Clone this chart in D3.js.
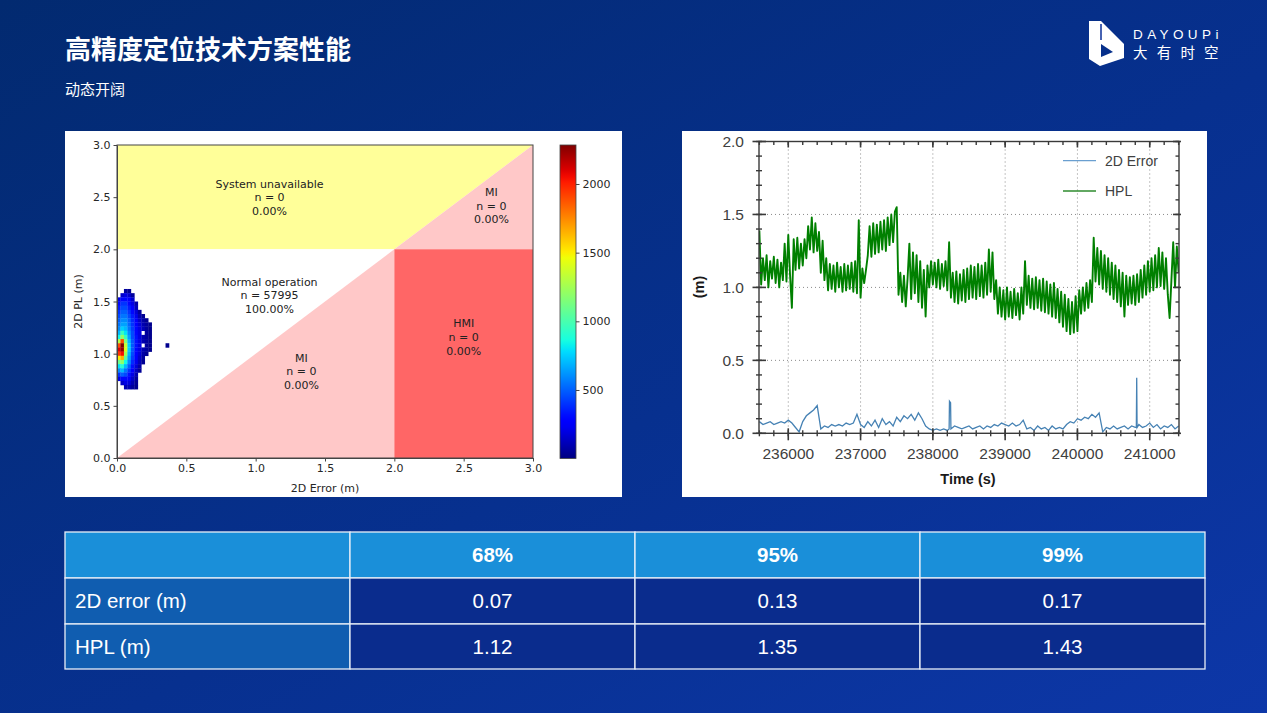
<!DOCTYPE html>
<html><head><meta charset="utf-8">
<script src="https://cdn.jsdelivr.net/npm/d3@7"></script>
<style>body{margin:0;background:#03296f;overflow:hidden}svg{display:block}</style>
</head><body><svg id="c" width="1267" height="713"></svg>
<script>
// ---------------- DATA ----------------
const pageTitle = "高精度定位技术方案性能";
const pageSubtitle = "动态开阔";
const logoLatin = "DAYOUPi";
const logoCJK = "大有时空";

// Stanford plot (2D Error vs 2D PL), alert limit 2 m
const stanfordTicks = [0, 0.5, 1, 1.5, 2, 2.5, 3];
const zoneNames = ["System unavailable", "MI", "Normal operation", "MI", "HMI"];
const zoneCounts = [0, 0, 57995, 0, 0];
const zonePercents = ["0.00%", "0.00%", "100.00%", "0.00%", "0.00%"];
const zonePolys = [
  [[0,2],[2,2],[3,3],[0,3]],
  [[2,2],[3,2],[3,3]],
  [[0,0],[0,2],[2,2]],
  [[0,0],[2,0],[2,2]],
  [[2,0],[3,0],[3,2],[2,2]]
];
const zoneColors = ["#ffff99", "#ffc8c8", "#ffffff", "#ffc8c8", "#ff6666"];
const zoneLabelAt = [[1.1,2.5],[2.7,2.42],[1.1,1.56],[1.33,0.83],[2.5,1.16]];

// 2D histogram: bin width 0.025 m (x), 0.04 m (y); rows listed top to bottom
const heatBinW = 0.025, heatBinH = 0.04;
const heatRowLow = [1.58,1.54,1.50,1.46,1.42,1.38,1.34,1.30,1.26,1.22,1.18,1.14,1.10,1.06,1.02,0.98,0.94,0.90,0.86,0.82,0.78,0.74,0.70,0.66];
const heatCounts = [
  [0,0,60,40],
  [0,150,200,150,60],
  [200,300,300,250,150],
  [300,400,400,300,200,80],
  [350,450,450,350,250,120],
  [400,500,500,400,300,180,60],
  [450,550,550,450,350,220,100,40],
  [500,600,600,500,380,250,150,80,40],
  [550,650,650,520,400,280,180,100,60,30],
  [600,750,700,550,420,300,200,120,60,30],
  [700,950,800,600,450,300,200,0,60,30],
  [850,1200,950,650,450,320,200,100,60,30],
  [1300,1900,1150,700,480,320,200,100,60,30],
  [1900,2283,1350,750,480,320,200,0,60,30,0,0,0,0,30],
  [2100,2250,1400,750,480,300,200,100,60,30],
  [1950,2050,1250,700,450,280,180,80,40],
  [1500,1650,1050,650,420,250,150,60],
  [1100,1200,850,600,380,220,120,40],
  [800,900,700,500,320,180,80],
  [600,700,550,400,250,140,50],
  [400,500,450,320,200,100],
  [200,300,300,250,150,60],
  [0,150,200,180,100,40],
  [0,0,100,100,60,30]
];
const colorbarMin = 1, colorbarMax = 2284;
const colorbarTicks = [500, 1000, 1500, 2000];

// Time series
const timeDomain = [235595, 241405];
const timeTicks = [236000, 237000, 238000, 239000, 240000, 241000];
const meterTicks = [0, 0.5, 1.0, 1.5, 2.0];
const hplStart = 235600, hplStep = 25;
const hplValues = [
 1.39,1.02,1.20,1.05,1.22,1.00,1.18,1.06,1.21,1.03,1.19,1.00,1.17,1.05,1.30,1.04,1.36,1.08,0.86,1.33,
 1.12,1.34,1.13,1.30,1.15,1.33,1.20,1.42,1.26,1.48,1.24,1.44,1.25,1.38,1.10,1.32,1.05,1.20,0.98,1.16,
 0.99,1.15,0.97,1.17,1.00,1.14,0.97,1.16,0.98,1.15,0.99,1.17,0.97,1.18,0.96,1.46,0.93,1.13,1.03,1.12,
 1.22,1.42,1.21,1.44,1.23,1.43,1.24,1.45,1.26,1.46,1.25,1.48,1.29,1.50,1.31,1.52,1.55,0.95,1.10,0.90,
 1.08,0.87,1.06,1.30,0.92,1.24,0.96,1.22,0.90,1.18,0.86,1.12,0.80,1.15,1.00,1.18,1.02,1.17,1.00,1.19,
 0.99,1.16,1.01,1.18,0.98,1.31,0.93,1.10,0.90,1.11,0.89,1.09,0.91,1.12,0.90,1.13,0.92,1.15,0.93,1.14,
 0.92,1.16,0.94,1.15,0.93,1.17,0.95,1.26,0.97,1.24,0.92,1.05,0.82,1.00,0.80,0.98,0.78,1.00,0.80,0.97,
 0.79,0.99,0.81,0.96,0.78,1.00,0.82,1.18,0.88,1.08,0.86,1.06,0.85,1.07,0.86,1.05,0.84,1.06,0.83,1.04,
 0.82,1.02,0.80,1.03,0.79,0.99,0.76,0.97,0.73,0.95,0.70,0.92,0.68,0.90,0.69,0.94,0.70,0.98,0.82,1.00,
 0.84,1.03,0.86,1.05,0.90,1.34,1.04,1.27,1.02,1.25,0.99,1.22,0.97,1.20,0.95,1.17,0.92,1.15,0.90,1.12,
 0.87,1.10,0.80,1.08,0.88,1.07,0.89,1.08,0.88,1.09,0.90,1.12,0.93,1.15,0.95,1.18,0.97,1.20,0.98,1.22,
 1.00,1.27,1.01,1.24,0.99,1.20,0.95,0.79,1.05,1.31,1.00,1.28,1.10
];
const errStart = 235600, errStep = 50;
const errValues = [
 0.08,0.06,0.07,0.08,0.06,0.07,0.08,0.07,0.09,0.07,0.04,0.01,0.08,0.12,0.14,0.16,0.19,0.03,0.05,0.04,
 0.06,0.05,0.06,0.05,0.07,0.06,0.07,0.13,0.06,0.04,0.08,0.05,0.09,0.04,0.10,0.06,0.08,0.05,0.11,0.08,
 0.12,0.10,0.13,0.09,0.14,0.10,0.05,0.03,0.02,0.03,0.02,0.03,0.02,0.03,0.05,0.04,0.03,0.04,0.05,0.03,
 0.04,0.05,0.03,0.05,0.04,0.06,0.05,0.07,0.06,0.05,0.07,0.05,0.06,0.09,0.03,0.04,0.02,0.05,0.03,0.04,
 0.02,0.05,0.03,0.04,0.03,0.06,0.08,0.07,0.10,0.09,0.11,0.10,0.13,0.11,0.14,0.01,0.04,0.03,0.05,0.03,
 0.04,0.05,0.03,0.05,0.04,0.06,0.04,0.05,0.07,0.04,0.06,0.03,0.05,0.04,0.06,0.03,0.05
];
const errSpikeTimes = [238225, 238230, 238245, 238250, 240815, 240820, 240825];
const errSpikeValues = [0.03, 0.22, 0.21, 0.03, 0.04, 0.38, 0.04];
const seriesNames = ["2D Error", "HPL"];

// Table
const tableHeaders = ["68%", "95%", "99%"];
const tableRowLabels = ["2D error (m)", "HPL (m)"];
const tableErr = [0.07, 0.13, 0.17];
const tableHpl = [1.12, 1.35, 1.43];

// ---------------- DRAW ----------------
const svg = d3.select("#c");
const defs = svg.append("defs");
const bg = defs.append("linearGradient").attr("id","bg").attr("x1","0").attr("y1","0").attr("x2","1").attr("y2","1");
bg.append("stop").attr("offset","0").attr("stop-color","#022a70");
bg.append("stop").attr("offset","0.55").attr("stop-color","#07308f");
bg.append("stop").attr("offset","1").attr("stop-color","#0d37a8");
svg.append("rect").attr("width",1267).attr("height",713).attr("fill","url(#bg)");

// header
svg.append("text").attr("x",65).attr("y",59).text(pageTitle)
  .attr("font-family","'Noto Sans CJK SC'").attr("font-weight","bold").attr("font-size",26).attr("fill","#fff");
svg.append("text").attr("x",65).attr("y",95).text(pageSubtitle)
  .attr("font-family","'Noto Sans CJK SC'").attr("font-size",15).attr("fill","#fff");

// logo
const lg = svg.append("g");
lg.append("path").attr("d","M1089,21 L1101,21 L1124,44 L1124,58 L1100,66 L1089,59 Z M1101,44 L1113,52 L1101,57 Z")
  .attr("fill","#fff").attr("fill-rule","evenodd");
lg.append("line").attr("x1",1101).attr("y1",24).attr("x2",1101).attr("y2",40).attr("stroke","#0a2f98").attr("stroke-width",1.5);
lg.append("text").attr("x",1133).attr("y",39).text(logoLatin).attr("font-family","'Liberation Sans'")
  .attr("font-size",13.5).attr("letter-spacing",4.4).attr("fill","#fff");
lg.append("text").attr("x",1133).attr("y",58).text(logoCJK).attr("font-family","'Noto Sans CJK SC'")
  .attr("font-size",14.5).attr("letter-spacing",9.2).attr("fill","#fff");

// ---------- Left panel ----------
svg.append("rect").attr("x",65).attr("y",131).attr("width",557).attr("height",366).attr("fill","#fff");
const xS = d3.scaleLinear([0,3],[117,533]);
const yS = d3.scaleLinear([0,3],[458,145]);
const L = svg.append("g");
const line = d3.line().x(d=>xS(d[0])).y(d=>yS(d[1]));
zonePolys.forEach((p,i)=>{
  L.append("path").attr("d", line(p)+"Z").attr("fill", zoneColors[i]);
});

function jet(t){
  t = Math.max(0, Math.min(1, t));
  const r = d3.scaleLinear([0,0.35,0.66,0.89,1],[0,0,1,1,0.5]).clamp(true)(t);
  const g = d3.scaleLinear([0,0.125,0.375,0.64,0.91,1],[0,0,1,1,0,0]).clamp(true)(t);
  const b = d3.scaleLinear([0,0.11,0.34,0.65,1],[0.5,1,1,0,0]).clamp(true)(t);
  return d3.rgb(r*255, g*255, b*255).formatHex();
}
const cNorm = d3.scaleLinear([colorbarMin, colorbarMax],[0,1]);
heatCounts.forEach((row, ri)=>{
  row.forEach((v, ci)=>{
    if (!v) return;
    const x0 = ci*heatBinW, y0 = heatRowLow[ri];
    L.append("rect").attr("x", xS(x0)).attr("y", yS(y0+heatBinH))
      .attr("width", xS(x0+heatBinW)-xS(x0)+0.3).attr("height", yS(y0)-yS(y0+heatBinH)+0.3)
      .attr("fill", jet(cNorm(v)));
  });
});

// zone labels
const tf = "'DejaVu Sans'";
zoneNames.forEach((nm,i)=>{
  const [dx,dy] = zoneLabelAt[i];
  const t = L.append("text").attr("text-anchor","middle").attr("font-family",tf).attr("font-size",11).attr("fill","#222");
  const lines = [nm, "n = " + zoneCounts[i], zonePercents[i]];
  lines.forEach((s,k)=>{
    t.append("tspan").attr("x", xS(dx)).attr("y", yS(dy) + (k-1)*13.6 + 4).text(s);
  });
});

// frame & axes
L.append("rect").attr("x",117).attr("y",145).attr("width",416).attr("height",313).attr("fill","none").attr("stroke","#444").attr("stroke-width",1);
const fmt1 = d3.format(".1f");
const ax = L.append("g").attr("transform","translate(0,458)").call(d3.axisBottom(xS).tickValues(stanfordTicks).tickFormat(fmt1).tickSize(3.5).tickSizeOuter(0));
const ay = L.append("g").attr("transform","translate(117,0)").call(d3.axisLeft(yS).tickValues(stanfordTicks).tickFormat(fmt1).tickSize(3.5).tickSizeOuter(0));
[ax,ay].forEach(a=>{
  a.select(".domain").attr("stroke","#444");
  a.selectAll(".tick line").attr("stroke","#444");
  a.selectAll("text").attr("font-family",tf).attr("font-size",11).attr("fill","#262626");
});
L.append("text").attr("x",xS(1.5)).attr("y",492).attr("text-anchor","middle").attr("font-family",tf).attr("font-size",11).attr("fill","#262626").text("2D Error (m)");
L.append("text").attr("transform","translate(82,"+yS(1.5)+") rotate(-90)").attr("text-anchor","middle").attr("font-family",tf).attr("font-size",11).attr("fill","#262626").text("2D PL (m)");

// colorbar
const cb = defs.append("linearGradient").attr("id","jet").attr("x1","0").attr("y1","1").attr("x2","0").attr("y2","0");
d3.range(0,1.0001,0.02).forEach(t=>cb.append("stop").attr("offset",t).attr("stop-color",jet(t)));
const cbS = d3.scaleLinear([colorbarMin, colorbarMax],[458.5,145]);
L.append("rect").attr("x",560).attr("y",145).attr("width",16).attr("height",313.5).attr("fill","url(#jet)").attr("stroke","#444").attr("stroke-width",0.8);
const ac = L.append("g").attr("transform","translate(576,0)").call(d3.axisRight(cbS).tickValues(colorbarTicks).tickFormat(d3.format("d")).tickSize(3.5).tickSizeOuter(0));
ac.select(".domain").remove();
ac.selectAll(".tick line").attr("stroke","#444");
ac.selectAll("text").attr("font-family",tf).attr("font-size",11).attr("fill","#262626");

// ---------- Right panel ----------
svg.append("rect").attr("x",682).attr("y",131).attr("width",525).attr("height",366).attr("fill","#fff");
const xT = d3.scaleLinear(timeDomain,[759,1179]);
const yT = d3.scaleLinear([0,2],[433.3,141.5]);
const R = svg.append("g");
defs.append("clipPath").attr("id","clipR").append("rect").attr("x",759).attr("y",141.5).attr("width",420).attr("height",291.8);
// grid
timeTicks.forEach(t=>R.append("line").attr("x1",xT(t)).attr("x2",xT(t)).attr("y1",141.5).attr("y2",433.3)
  .attr("stroke","#8a8a8a").attr("stroke-dasharray","1,3").attr("stroke-width",1));
meterTicks.filter(v=>v>0&&v<2).forEach(v=>R.append("line").attr("x1",759).attr("x2",1179).attr("y1",yT(v)).attr("y2",yT(v))
  .attr("stroke","#8a8a8a").attr("stroke-dasharray","1,3").attr("stroke-width",1));

// series
const hplData = hplValues.map((v,i)=>[hplStart + i*hplStep, v]);
const errData = errValues.map((v,i)=>[errStart + i*errStep, v])
  .concat(errSpikeTimes.map((t,i)=>[t, errSpikeValues[i]])).sort((a,b)=>a[0]-b[0]);
const tl = d3.line().x(d=>xT(d[0])).y(d=>yT(d[1]));
const plotG = R.append("g").attr("clip-path","url(#clipR)");
plotG.append("path").attr("d", tl(hplData)).attr("fill","none").attr("stroke","#008000").attr("stroke-width",1.9).attr("stroke-linejoin","round");
plotG.append("path").attr("d", tl(errData)).attr("fill","none").attr("stroke","#4682b4").attr("stroke-width",1.3);

// frame
R.append("rect").attr("x",759).attr("y",141.5).attr("width",420).attr("height",291.8).attr("fill","none").attr("stroke","#3a3a3a").attr("stroke-width",1.4);
const minorT = d3.range(235600, 241401, 200);
const minorY = d3.range(0, 2.001, 0.1);
const tk = (x1,y1,x2,y2,w)=>R.append("line").attr("x1",x1).attr("y1",y1).attr("x2",x2).attr("y2",y2).attr("stroke","#3a3a3a").attr("stroke-width",w||1.4);
minorT.forEach(t=>{ const x=xT(t); tk(x,430.3,x,436.3); tk(x,141.5,x,145); });
timeTicks.forEach(t=>{ const x=xT(t); tk(x,428.3,x,440.3,1.6); tk(x,141.5,x,147.5,1.6); });
minorY.forEach(v=>{ const y=yT(v); tk(756,y,762,y); tk(1175.5,y,1179,y); });
meterTicks.forEach(v=>{ const y=yT(v); tk(752.5,y,766,y,1.6); tk(1173,y,1181,y,1.6); });
// labels
timeTicks.forEach(t=>R.append("text").attr("x",xT(t)).attr("y",459).attr("text-anchor","middle")
  .attr("font-family","'Liberation Sans'").attr("font-size",15.5).attr("fill","#404040").text(t));
meterTicks.forEach(v=>R.append("text").attr("x",744).attr("y",yT(v)+5.5).attr("text-anchor","end")
  .attr("font-family","'Liberation Sans'").attr("font-size",15.5).attr("fill","#404040").text(d3.format(".1f")(v)));
R.append("text").attr("x",968).attr("y",484).attr("text-anchor","middle").attr("font-family","'Liberation Sans'")
  .attr("font-weight","bold").attr("font-size",14.5).attr("fill","#1a1a1a").text("Time (s)");
R.append("text").attr("transform","translate(704,287) rotate(-90)").attr("text-anchor","middle").attr("font-family","'Liberation Sans'")
  .attr("font-weight","bold").attr("font-size",14.5).attr("fill","#1a1a1a").text("(m)");
// legend
const legColors = ["#6a9fd0", "#2e8b2e"];
seriesNames.forEach((s,i)=>{
  const y = 160.7 + i*30.3;
  R.append("line").attr("x1",1063).attr("x2",1096).attr("y1",y).attr("y2",y).attr("stroke",legColors[i]).attr("stroke-width",1.3);
  R.append("text").attr("x",1105).attr("y",y+5).attr("font-family","'Liberation Sans'").attr("font-size",14).attr("fill","#404040").text(s);
});

// ---------- Table ----------
const colX = [65, 350, 635, 920, 1205];
const rowY = [532, 578, 624, 669];
const T = svg.append("g");
const rowsData = [[tableRowLabels[0], ...tableErr.map(d3.format(".2f"))], [tableRowLabels[1], ...tableHpl.map(d3.format(".2f"))]];
for (let r=0;r<3;r++){
  for (let c=0;c<4;c++){
    const fill = r===0 ? "#1a8fd9" : (c===0 ? "#105db0" : "#0a2c8d");
    T.append("rect").attr("x",colX[c]).attr("y",rowY[r]).attr("width",colX[c+1]-colX[c]).attr("height",rowY[r+1]-rowY[r])
      .attr("fill",fill).attr("stroke","#e8eef8").attr("stroke-width",1.3);
    let txt = r===0 ? (c===0 ? "" : tableHeaders[c-1]) : rowsData[r-1][c];
    const cy = (rowY[r]+rowY[r+1])/2;
    T.append("text").attr("x", c===0 ? 75 : (colX[c]+colX[c+1])/2).attr("y", cy+7)
      .attr("text-anchor", c===0 ? "start" : "middle").attr("font-family","'Liberation Sans'")
      .attr("font-size",20.5).attr("font-weight", r===0 ? "bold" : "normal").attr("fill","#fff").text(txt);
  }
}
</script></body></html>
